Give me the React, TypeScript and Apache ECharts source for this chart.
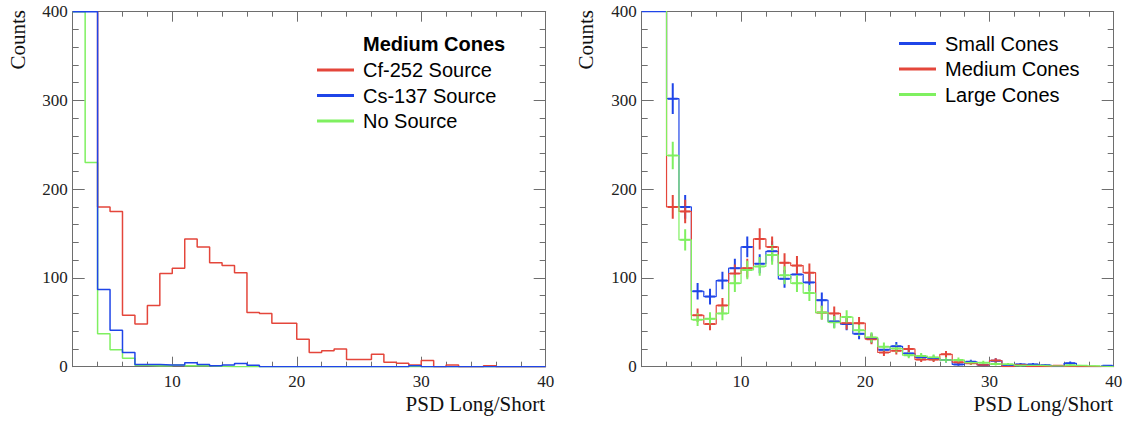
import React, { useEffect, useRef } from 'react';
import * as echarts from 'echarts';

// Lower edges of the 1-unit bins (last bin ends at 40)
const BIN_LOW = [2, 3, 4, 5, 6, 7, 8, 9, 10, 11, 12, 13, 14, 15, 16, 17, 18, 19, 20, 21, 22, 23, 24, 25, 26, 27, 28, 29, 30, 31, 32, 33, 34, 35, 36, 37, 38, 39];
const BIN_END = 40;

// Left panel: Medium Cones
const CF252_MEDIUM = [1000, 1000, 180, 175, 58, 48, 69, 105, 111, 144, 135, 117, 114, 106, 61, 60, 49, 49, 31, 16, 18, 20, 8, 8, 14, 5, 4, 2, 7, 0, 2, 0, 0, 1, 0, 0, 0, 0];
const CS137_MEDIUM = [1000, 1000, 87, 41, 16, 2.5, 2.5, 2, 2, 4.5, 2.5, 1, 2, 3.5, 1.5, 0, 0, 0, 0, 0, 0, 0, 0, 0, 0, 0, 0, 1, 0, 0, 0, 0, 0, 0, 0, 0, 0, 0];
const NO_SOURCE_MEDIUM = [1000, 230, 37, 19, 9.5, 1.5, 1, 1, 2, 1, 1, 0.5, 0, 0, 0, 0, 0, 0, 0, 0, 0, 0, 0, 0, 0, 0, 0, 0, 0, 0, 0, 0, 0, 0, 0, 0, 0, 0];

// Right panel: Cf-252 with three cone sizes
const SMALL_CONES = [1000, 1000, 302, 180, 85, 79, 97, 111, 135, 116, 130, 99, 104, 95, 75, 51, 48, 37, 32, 19, 23, 15, 10.5, 9.5, 7.5, 2.6, 5.6, 2, 6.8, 1, 2.6, 2.6, 1.5, 0, 3.8, 0, 0, 1];
const MEDIUM_CONES = CF252_MEDIUM;
const LARGE_CONES = [1000, 1000, 238, 143, 53, 54, 60, 94, 109, 113, 126, 103, 94, 83, 61, 50, 56, 41, 33, 22.5, 20.5, 13, 12, 10.5, 7.5, 7.5, 4.5, 4.5, 3, 2.6, 1.5, 1.5, 1, 0.8, 1.5, 1, 0.5, 0];

const X_MAJOR = [10, 20, 30, 40];
const X_MINOR = [2, 4, 6, 8, 10, 12, 14, 16, 18, 20, 22, 24, 26, 28, 30, 32, 34, 36, 38, 40];
const Y_MIN = 0;
const Y_MAX = 400;
const Y_STEP = 100;

const LEFT_LEGEND_TITLE = 'Medium Cones';
const LEFT_LEGEND = ['Cf-252 Source', 'Cs-137 Source', 'No Source'];
const RIGHT_LEGEND = ['Small Cones', 'Medium Cones', 'Large Cones'];

const RED = '#e4463b';
const BLUE = '#1f45e8';
const GREEN = '#7ff060';
const FRAME = '#6e6e6e';
const SERIF = 'Liberation Serif';
const SANS = 'Liberation Sans';

function stepData(vals: number[], clampTop: boolean) {
  const pts: number[][] = BIN_LOW.map((x, i) => [x, clampTop ? Math.min(vals[i], Y_MAX) : vals[i]]);
  pts.push([BIN_END, pts[pts.length - 1][1]]);
  return pts;
}

function errData(vals: number[]) {
  const out: number[][] = [];
  BIN_LOW.forEach((x, i) => {
    const v = vals[i];
    if (x >= 4 && v > 0 && v <= Y_MAX) out.push([x, v]);
  });
  return out;
}

const TICK_LABEL = { fontFamily: SERIF, fontSize: 17, color: '#222' };

function xAxes(gridIndex: number) {
  const base = { type: 'value', gridIndex, min: 2, max: 40, splitLine: { show: false } };
  return [
    {
      ...base, position: 'bottom',
      axisLine: { show: true, lineStyle: { color: FRAME, width: 1 } },
      axisTick: { show: true, inside: true, length: 5, customValues: X_MINOR, lineStyle: { color: FRAME } },
      axisLabel: { show: true, customValues: X_MAJOR, margin: 6, ...TICK_LABEL },
    },
    {
      ...base, position: 'bottom',
      axisLine: { show: false },
      axisTick: { show: true, inside: true, length: 10, customValues: X_MAJOR, lineStyle: { color: FRAME } },
      axisLabel: { show: false },
    },
    {
      ...base, position: 'top',
      axisLine: { show: true, lineStyle: { color: FRAME, width: 1 } },
      axisTick: { show: true, inside: true, length: 5, customValues: X_MINOR, lineStyle: { color: FRAME } },
      axisLabel: { show: false },
    },
    {
      ...base, position: 'top',
      axisLine: { show: false },
      axisTick: { show: true, inside: true, length: 10, customValues: X_MAJOR, lineStyle: { color: FRAME } },
      axisLabel: { show: false },
    },
  ];
}

function yAxes(gridIndex: number) {
  const base = {
    type: 'value', gridIndex, min: Y_MIN, max: Y_MAX, interval: Y_STEP,
    splitLine: { show: false },
    axisLine: { show: true, lineStyle: { color: FRAME, width: 1 } },
    axisTick: { show: true, inside: true, length: 12, lineStyle: { color: FRAME } },
    minorTick: { show: true, splitNumber: 5, length: 6, lineStyle: { color: FRAME } },
  };
  return [
    { ...base, position: 'left', axisLabel: { show: true, margin: 5, ...TICK_LABEL } },
    { ...base, position: 'right', axisLabel: { show: false } },
  ];
}

function stepSeries(name: string, vals: number[], color: string, xi: number, yi: number, clampTop: boolean, width: number) {
  return {
    name, type: 'line', step: 'end', xAxisIndex: xi, yAxisIndex: yi,
    data: stepData(vals, clampTop), symbol: 'none', clip: true,
    lineStyle: { color, width }, silent: true,
  };
}

function errSeries(name: string, vals: number[], color: string, xi: number, yi: number) {
  return {
    name: name + ' err', type: 'custom', xAxisIndex: xi, yAxisIndex: yi, clip: true, silent: true,
    data: errData(vals),
    renderItem: (_p: any, api: any) => {
      const x0 = api.value(0);
      const v = api.value(1);
      const e = Math.sqrt(v);
      const top = api.coord([x0 + 0.5, v + e]);
      const bot = api.coord([x0 + 0.5, Math.max(v - e, 0)]);
      const l = api.coord([x0 + 0.1, v]);
      const r = api.coord([x0 + 0.9, v]);
      return {
        type: 'group',
        children: [
          { type: 'line', shape: { x1: top[0], y1: top[1], x2: bot[0], y2: bot[1] }, style: { stroke: color, lineWidth: 2 } },
          { type: 'line', shape: { x1: l[0], y1: l[1], x2: r[0], y2: r[1] }, style: { stroke: color, lineWidth: 2 } },
        ],
      };
    },
  };
}

function legendLine(x1: number, x2: number, y: number, color: string) {
  return { type: 'line', shape: { x1, y1: y, x2, y2: y }, style: { stroke: color, lineWidth: 3 } };
}
function legendText(x: number, y: number, text: string, bold = false) {
  return {
    type: 'text', x, y,
    style: { text, fontFamily: SANS, fontSize: 20, fontWeight: bold ? 'bold' : 'normal', fill: '#000', textAlign: 'left', textVerticalAlign: 'middle', align: 'left', verticalAlign: 'middle' },
  };
}
function axisTitle(x: number, y: number, text: string, rotated: boolean) {
  return {
    type: 'text', x, y, rotation: rotated ? Math.PI / 2 : 0,
    style: { text, fontFamily: SERIF, fontSize: 21, fill: '#111', textAlign: 'right', textVerticalAlign: 'middle', align: 'right', verticalAlign: 'middle' },
  };
}

export default function App() {
  const ref = useRef<HTMLDivElement>(null);
  useEffect(() => {
    document.body.style.margin = '0';
    const chart = echarts.init(ref.current!, null, { renderer: 'svg' });
    const option: any = {
      animation: false,
      backgroundColor: '#ffffff',
      textStyle: { fontFamily: SERIF },
      grid: [
        { left: 72.7, top: 11.7, width: 473, height: 355, containLabel: false, outerBoundsMode: 'none' },
        { left: 641.7, top: 11.7, width: 472, height: 355, containLabel: false, outerBoundsMode: 'none' },
      ],
      xAxis: [...xAxes(0), ...xAxes(1)],
      yAxis: [...yAxes(0), ...yAxes(1)],
      series: [
        stepSeries(LEFT_LEGEND[2], NO_SOURCE_MEDIUM, GREEN, 0, 0, true, 1.5),
        stepSeries(LEFT_LEGEND[0], CF252_MEDIUM, RED, 0, 0, false, 1.5),
        stepSeries(LEFT_LEGEND[1], CS137_MEDIUM, BLUE, 0, 0, true, 1.5),
        stepSeries(RIGHT_LEGEND[0], SMALL_CONES, BLUE, 4, 2, true, 1.2),
        stepSeries(RIGHT_LEGEND[1], MEDIUM_CONES, RED, 4, 2, false, 1.2),
        stepSeries(RIGHT_LEGEND[2], LARGE_CONES, GREEN, 4, 2, false, 1.2),
        errSeries(RIGHT_LEGEND[0], SMALL_CONES, BLUE, 4, 2),
        errSeries(RIGHT_LEGEND[1], MEDIUM_CONES, RED, 4, 2),
        errSeries(RIGHT_LEGEND[2], LARGE_CONES, GREEN, 4, 2),
      ],
      graphic: [
        // left legend
        legendText(363, 44, LEFT_LEGEND_TITLE, true),
        legendLine(317, 354, 70, RED), legendText(363, 70, LEFT_LEGEND[0]),
        legendLine(317, 354, 95.5, BLUE), legendText(363, 95.5, LEFT_LEGEND[1]),
        legendLine(317, 354, 121, GREEN), legendText(363, 121, LEFT_LEGEND[2]),
        // right legend
        legendLine(899, 936, 43.5, BLUE), legendText(945, 43.5, RIGHT_LEGEND[0]),
        legendLine(899, 936, 69, RED), legendText(945, 69, RIGHT_LEGEND[1]),
        legendLine(899, 936, 94.5, GREEN), legendText(945, 94.5, RIGHT_LEGEND[2]),
        // axis titles
        axisTitle(17.5, 10, 'Counts', true),
        axisTitle(586, 10, 'Counts', true),
        axisTitle(545, 404, 'PSD Long/Short', false),
        axisTitle(1113, 404, 'PSD Long/Short', false),
      ],
    };
    chart.setOption(option);
    return () => chart.dispose();
  }, []);
  return <div ref={ref} style={{ width: 1126, height: 421 }} />;
}
